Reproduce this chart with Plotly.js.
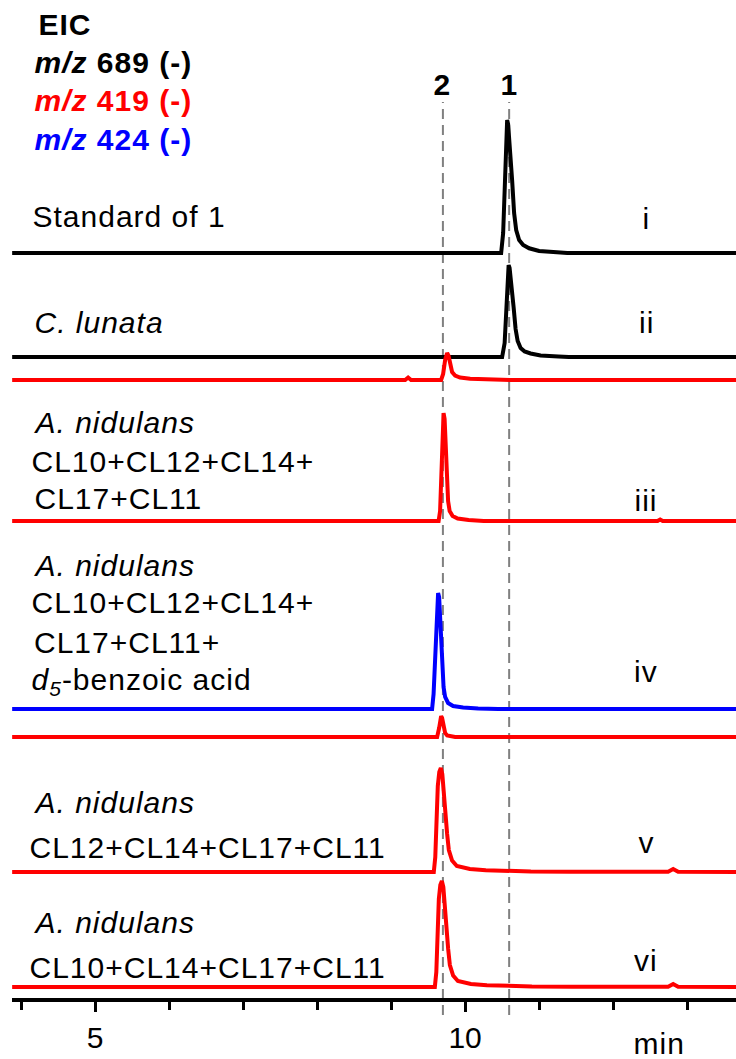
<!DOCTYPE html>
<html>
<head>
<meta charset="utf-8">
<script src="https://cdn.plot.ly/plotly-3.0.1.min.js"></script>
<style>
html,body{margin:0;padding:0;background:#fff;}
#chart{width:736px;height:1059px;}
#chart .annotation-text{letter-spacing:1px;}
</style>
</head>
<body>
<div id="chart"></div>
<script>
// ---- Data (retention time in min, intensity in arbitrary units) ----
const time_i = [3.88, 10.40, 10.487, 10.514, 10.541, 10.554, 10.568, 10.581, 10.608, 10.635, 10.662, 10.69, 10.73, 10.784, 10.865, 11.0, 11.24, 11.38, 12.0, 13.66];
const int_i  = [0, 0, 0, 2.0, 8.0, 12.0, 13.3, 12.9, 10.6, 7.3, 4.0, 2.3, 1.3, 0.8, 0.47, 0.2, 0.07, 0, 0, 0];

const time_ii = [3.88, 10.50, 10.534, 10.561, 10.574, 10.588, 10.601, 10.628, 10.655, 10.682, 10.71, 10.75, 10.804, 10.885, 11.02, 11.26, 11.4, 13.66];
const int_ii  = [0, 0, 1.4, 5.5, 8.3, 9.2, 8.9, 7.3, 5.0, 2.8, 1.6, 0.9, 0.55, 0.35, 0.15, 0.05, 0, 0];

const time_ii_red = [3.88, 9.19, 9.23, 9.27, 9.676, 9.703, 9.730, 9.757, 9.777, 9.797, 9.824, 9.865, 9.932, 10.068, 10.338, 10.608, 13.66];
const int_ii_red  = [0, 0, 0.25, 0, 0, 0.6, 2.0, 2.7, 2.4, 1.5, 0.8, 0.45, 0.25, 0.12, 0.05, 0, 0];

const time_iii = [3.88, 9.642, 9.662, 9.682, 9.696, 9.709, 9.723, 9.736, 9.750, 9.770, 9.791, 9.831, 9.899, 10.047, 10.25, 12.60, 12.635, 12.67, 13.66];
const int_iii  = [0, 0, 1.0, 5.0, 9.0, 10.8, 10.2, 7.5, 4.5, 2.0, 1.0, 0.5, 0.25, 0.1, 0, 0, 0.15, 0, 0];

const time_iv = [3.88, 9.554, 9.574, 9.595, 9.615, 9.635, 9.649, 9.669, 9.689, 9.709, 9.730, 9.770, 9.838, 9.973, 10.176, 10.446, 13.66];
const int_iv  = [0, 0, 1.5, 5.8, 10.0, 11.6, 11.2, 8.5, 5.0, 2.2, 1.2, 0.6, 0.3, 0.15, 0.05, 0, 0];

const time_iv_red = [3.88, 9.622, 9.649, 9.662, 9.676, 9.689, 9.709, 9.730, 9.757, 9.811, 9.865, 13.66];
const int_iv_red  = [0, 0, 0.9, 1.7, 2.1, 1.9, 1.0, 0.4, 0.15, 0.05, 0, 0];

const time_v = [3.88, 9.577, 9.597, 9.611, 9.631, 9.651, 9.672, 9.692, 9.712, 9.734, 9.757, 9.780, 9.824, 9.888, 10.064, 10.280, 10.509, 10.888, 11.428, 12.743, 12.811, 12.878, 13.66];
const int_v  = [0, 0, 1.5, 5.5, 8.6, 10.0, 10.4, 9.8, 7.8, 5.2, 3.8, 2.2, 1.15, 0.6, 0.3, 0.18, 0.1, 0.05, 0.03, 0.03, 0.3, 0.03, 0];

const time_vi = [3.88, 9.591, 9.611, 9.625, 9.645, 9.665, 9.686, 9.706, 9.726, 9.748, 9.771, 9.794, 9.838, 9.902, 10.078, 10.294, 10.523, 10.902, 11.442, 12.743, 12.811, 12.878, 13.66];
const int_vi  = [0, 0, 1.5, 5.6, 8.8, 10.2, 10.6, 10.0, 8.0, 5.3, 3.8, 2.2, 1.15, 0.6, 0.3, 0.18, 0.1, 0.05, 0.03, 0.03, 0.3, 0.03, 0];

const compoundTimes = [9.70, 10.595];
const compoundLabels = ['2', '1'];
const xMajorTicks = [5, 10];
const xMajorText = ['5', '10'];
const xMinorTicks = [4, 6, 7, 8, 9, 11, 12, 13];

// ---- Styling / layout ----
const FONT = 'Liberation Sans, Arial, sans-serif';
const FS = 30;
const BLACK = '#000000', RED = '#ff0000', BLUE = '#0000ff';
const W = 736, H = 1059, ML = 12, MB = 59;
const plotW = W - ML, plotH = H - MB;
const px = x => (x - ML) / plotW;
const py = y => (plotH - y) / plotH;

const lanes = [
  {t: time_i, v: int_i, c: BLACK, dom: 0.737},
  {t: time_ii, v: int_ii, c: BLACK, dom: 0.633},
  {t: time_ii_red, v: int_ii_red, c: RED, dom: 0.610},
  {t: time_iii, v: int_iii, c: RED, dom: 0.469},
  {t: time_iv, v: int_iv, c: BLUE, dom: 0.281},
  {t: time_iv_red, v: int_iv_red, c: RED, dom: 0.253},
  {t: time_v, v: int_v, c: RED, dom: 0.118},
  {t: time_vi, v: int_vi, c: RED, dom: 0.003}
];

const data = [];
const layout = {
  width: W, height: H,
  margin: {l: ML, r: 0, t: 0, b: MB, pad: 0},
  paper_bgcolor: '#fff', plot_bgcolor: 'rgba(0,0,0,0)',
  showlegend: false,
  font: {family: FONT, color: BLACK},
  xaxis: {
    range: [3.878, 13.66], showline: true, linewidth: 4, linecolor: BLACK,
    anchor: 'free', position: 0,
    ticks: 'outside', ticklen: 10, tickwidth: 3, tickcolor: BLACK,
    tickmode: 'array', tickvals: xMajorTicks, ticktext: xMajorText,
    minor: {tickmode: 'array', tickvals: xMinorTicks, ticks: 'outside', ticklen: 8, tickwidth: 3, tickcolor: BLACK, showgrid: false},
    tickfont: {family: FONT, size: FS, color: BLACK},
    showgrid: false, zeroline: false, fixedrange: true
  },
  shapes: [],
  annotations: []
};

lanes.forEach((ln, k) => {
  const n = k + 1;
  const yid = n === 1 ? 'y' : 'y' + n;
  layout[n === 1 ? 'yaxis' : 'yaxis' + n] = {domain: [ln.dom, ln.dom + 0.16], range: [-1, 15], visible: false, fixedrange: true, anchor: 'x'};
  data.push({x: ln.t, y: ln.v, type: 'scatter', mode: 'lines', xaxis: 'x', yaxis: yid,
             line: {color: ln.c, width: 4}, hoverinfo: 'skip'});
});

compoundTimes.forEach((t, i) => {
  layout.shapes.push({type: 'line', xref: 'x', yref: 'paper', x0: t, x1: t, y0: py(1015), y1: py(102),
                      line: {color: '#808080', width: 2, dash: '10px,6px'}, layer: 'below'});
  layout.annotations.push({xref: 'x', yref: 'paper', x: t, y: py(85), text: '<b>' + compoundLabels[i] + '</b>',
                           showarrow: false, xanchor: 'center', yanchor: 'middle', font: {family: FONT, size: FS, color: BLACK}});
});

function txt(s, x, y, opts = {}) {
  layout.annotations.push(Object.assign({xref: 'paper', yref: 'paper', x: px(x), y: py(y), text: s,
    showarrow: false, xanchor: 'left', yanchor: 'middle', font: {family: FONT, size: FS, color: opts.color || BLACK}}, opts.extra || {}));
}
function roman(s, y) {
  layout.annotations.push({xref: 'paper', yref: 'paper', x: px(646), y: py(y), text: s, showarrow: false,
    xanchor: 'center', yanchor: 'middle', font: {family: FONT, size: FS, color: BLACK}});
}

// legend header
txt('<b>EIC</b>', 38, 24);
txt('<b><i>m/z</i> 689 (-)</b>', 38, 63, {color: BLACK});
txt('<b><i>m/z</i> 419 (-)</b>', 38, 101, {color: RED});
txt('<b><i>m/z</i> 424 (-)</b>', 38, 139, {color: BLUE});

// sample labels
txt('Standard of 1', 37, 217);
txt('<i>C. lunata</i>', 37, 323);
txt('<i>A. nidulans</i>', 37, 422);
txt('CL10+CL12+CL14+', 37, 462);
txt('CL17+CL11', 37, 498);
txt('<i>A. nidulans</i>', 37, 565);
txt('CL10+CL12+CL14+', 37, 602);
txt('CL17+CL11+', 37, 642);
txt('<i>d<sub>5</sub></i>-benzoic acid', 37, 682);
txt('<i>A. nidulans</i>', 37, 803);
txt('CL12+CL14+CL17+CL11', 37, 847);
txt('<i>A. nidulans</i>', 37, 922);
txt('CL10+CL14+CL17+CL11', 37, 967);

roman('i', 219);
roman('ii', 323);
roman('iii', 500);
roman('iv', 672);
roman('v', 842);
roman('vi', 960);

// axis unit label
txt('min', 659, 1043, {extra: {xanchor: 'center'}});

Plotly.newPlot('chart', data, layout, {staticPlot: true, displayModeBar: false});
</script>
</body>
</html>
